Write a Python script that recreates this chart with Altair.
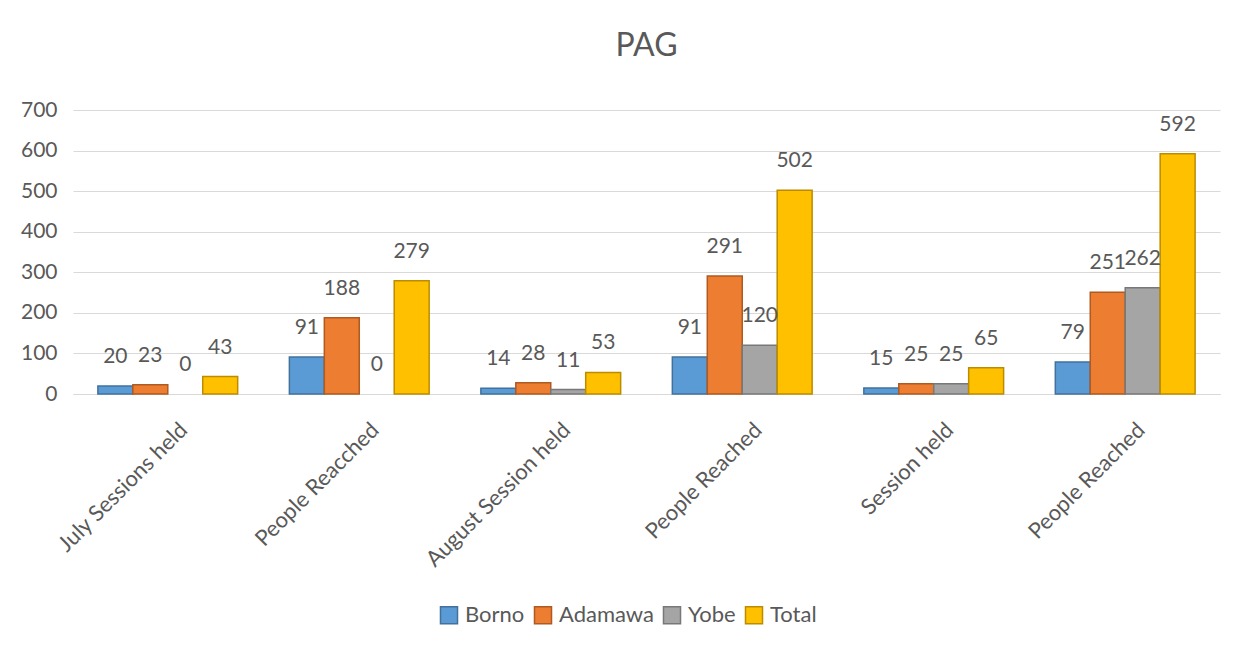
import altair as alt
import pandas as pd

categories = ["July Sessions held", "People Reacched", "August Session held",
              "People Reached", "Session held", "People Reached"]
series = ["Borno", "Adamawa", "Yobe", "Total"]
borno = [20, 91, 14, 91, 15, 79]
adamawa = [23, 188, 28, 291, 25, 251]
yobe = [0, 0, 11, 120, 25, 262]
total = [43, 279, 53, 502, 65, 592]
fill_colors = ["#5B9BD5", "#ED7D31", "#A5A5A5", "#FFC000"]
stroke_colors = ["#41719C", "#AE5A21", "#787878", "#BC8C00"]

rows = []
for s, vals in zip(series, [borno, adamawa, yobe, total]):
    for i, v in enumerate(vals):
        rows.append({"idx": i, "series": s, "value": v})
df = pd.DataFrame(rows)

label_expr = "[" + ",".join("'" + c + "'" for c in categories) + "][datum.value]"
FONT = "Lato"
GRAY = "#595959"

x = alt.X("idx:O", sort=list(range(6)),
          scale=alt.Scale(paddingInner=0.27, paddingOuter=0.13),
          axis=alt.Axis(title=None, labelExpr=label_expr, labelAngle=-45,
                        labelAlign="right", labelBaseline="middle",
                        labelFontSize=22, labelColor=GRAY, labelFont=FONT,
                        labelLimit=400,
                        ticks=False, domainColor="#D9D9D9", labelPadding=32,
                        labelOffset=16, grid=False))
xo = alt.XOffset("series:N", sort=series,
                 scale=alt.Scale(paddingInner=0, paddingOuter=0))
y = alt.Y("value:Q", scale=alt.Scale(domain=[0, 700]),
          axis=alt.Axis(title=None, values=list(range(0, 701, 100)),
                        labelFontSize=21, labelColor=GRAY, labelFont=FONT,
                        ticks=False, domain=False, gridColor="#D9D9D9",
                        labelPadding=16))

bars = alt.Chart(df).mark_bar(strokeWidth=1.5).encode(
    x=x, xOffset=xo, y=y,
    color=alt.Color("series:N", sort=series,
                    scale=alt.Scale(domain=series, range=fill_colors),
                    legend=alt.Legend(title=None, orient="none",
                                      legendX=365, legendY=494,
                                      direction="horizontal",
                                      symbolType="square", symbolSize=290,
                                      symbolStrokeWidth=1.5,
                                      labelFontSize=22, labelColor=GRAY,
                                      labelFont=FONT, labelOffset=5,
                                      columnPadding=6, symbolOffset=0)),
    stroke=alt.Stroke("series:N", sort=series,
                      scale=alt.Scale(domain=series, range=stroke_colors),
                      legend=None),
    strokeOpacity=alt.condition("datum.value > 0", alt.value(1), alt.value(0)),
)

labels = alt.Chart(df).mark_text(dy=-29, fontSize=21, color=GRAY,
                                 font=FONT, baseline="middle").encode(
    x=x, xOffset=xo, y=y, text=alt.Text("value:Q")
)

chart = (bars + labels).properties(
    width=1147, height=284,
    title=alt.TitleParams("PAG", fontSize=32, font=FONT, color=GRAY,
                          fontWeight="normal", anchor="middle", offset=36),
    padding={"left": 12, "top": 22, "right": 20, "bottom": 5},
).configure(background="white").configure_view(stroke=None)

chart.save("out.html", embed_options={"renderer": "svg", "actions": False})
